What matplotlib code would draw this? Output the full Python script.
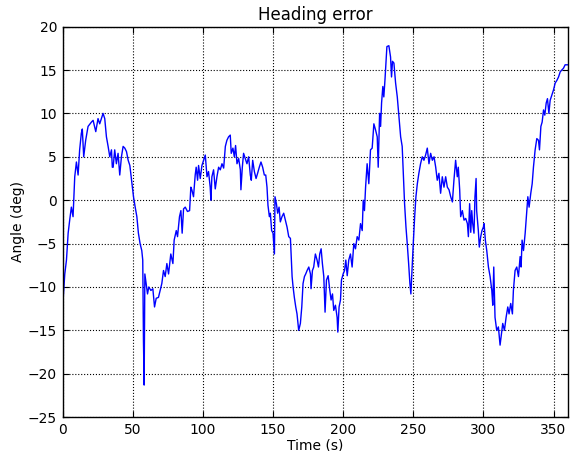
import matplotlib
matplotlib.use("Agg")
import matplotlib.pyplot as plt
import numpy as np

# heading error trace (time in s, angle in deg)
time_s = [
    0.0, 0.3, 1.5, 2.7, 3.9, 5.0, 6.2, 7.4, 7.9, 8.6, 9.8, 11.0, 12.1, 13.3, 14.0,
    15.0, 16.4, 18.1, 20.5, 21.7, 23.6, 25.2, 26.4, 28.8, 30.0, 31.2, 32.4, 33.6,
    34.8, 35.4, 36.0, 37.1, 38.3, 39.5, 40.7, 41.9, 43.1, 44.3, 45.5, 46.7, 47.9,
    49.1, 50.5, 51.7, 52.9, 54.0, 55.2, 56.4, 57.1, 57.6, 58.1, 58.6, 59.5, 60.5,
    61.4, 62.9, 64.3, 65.5, 66.7, 68.3, 69.5, 70.7, 71.9, 73.1, 74.3, 75.5, 77.1,
    78.6, 79.5, 81.0, 81.9, 83.3, 84.3, 85.2, 86.2, 87.4, 89.0, 90.5, 91.4, 92.1,
    93.3, 94.5, 95.2, 96.2, 96.9, 98.1, 99.3, 100.5, 101.7, 102.9, 104.0, 105.2,
    105.7, 106.4, 107.6, 108.8, 110.0, 111.2, 112.4, 113.6, 114.8, 116.0, 117.1,
    118.3, 119.5, 120.2, 121.4, 122.4, 123.3, 124.3, 125.5, 126.7, 127.1, 128.1,
    129.0, 130.2, 131.4, 132.6, 133.8, 134.5, 135.5, 136.7, 137.9, 139.0, 140.2,
    141.4, 142.6, 143.8, 144.8, 145.7, 146.4, 147.4, 148.1, 149.0, 150.0, 151.0,
    151.4, 152.4, 153.3, 154.3, 155.2, 156.4, 157.6, 158.8, 160.0, 161.2, 162.4,
    163.6, 164.3, 165.2, 166.2, 167.1, 168.3, 169.5, 170.5, 171.4, 172.4, 173.3,
    174.3, 175.5, 176.7, 177.1, 178.1, 179.0, 180.2, 181.4, 182.4, 183.3, 184.3,
    185.2, 186.2, 187.1, 188.1, 189.3, 190.5, 191.4, 192.4, 193.3, 194.5, 195.7,
    196.2, 197.1, 198.1, 198.8, 200.0, 201.0, 201.9, 202.9, 204.0, 205.2, 206.4,
    207.6, 208.8, 210.0, 211.2, 212.4, 213.6, 214.3, 215.2, 216.0, 217.1, 218.3,
    219.5, 220.7, 221.9, 223.1, 224.3, 225.0, 226.0, 226.7, 227.4, 228.3, 229.0,
    229.8, 230.5, 231.2, 232.6, 233.8, 234.5, 235.2, 236.2, 237.4, 238.6, 239.8,
    241.0, 242.1, 242.9, 243.8, 244.8, 245.7, 246.7, 247.6, 248.3, 249.3, 250.0,
    251.0, 251.9, 252.9, 254.0, 255.2, 256.4, 257.6, 258.8, 260.0, 261.2, 262.4,
    263.6, 264.8, 266.0, 267.1, 268.3, 269.5, 270.7, 271.9, 273.1, 274.3, 275.5,
    276.7, 277.9, 279.0, 280.2, 281.4, 282.1, 283.1, 283.8, 285.0, 286.2, 287.4,
    288.6, 289.3, 290.2, 291.0, 291.7, 292.4, 293.3, 294.0, 294.8, 295.2, 296.4,
    297.1, 298.1, 299.0, 300.0, 300.5, 301.4, 302.4, 303.6, 304.8, 306.0, 306.7,
    307.4, 308.3, 309.5, 310.7, 311.9, 312.9, 313.8, 315.0, 316.2, 317.4, 318.3,
    319.5, 320.7, 321.4, 322.6, 323.8, 325.0, 326.2, 326.9, 327.6, 328.6, 329.8,
    331.0, 331.7, 332.6, 333.8, 334.8, 335.7, 336.9, 338.1, 339.3, 340.0, 341.0,
    341.9, 342.9, 343.8, 344.8, 345.7, 346.7, 347.6, 348.8, 350.0, 351.2, 352.4,
    353.6, 354.8, 356.0, 357.1, 358.3, 360.0,
]
angle_deg = [
    -10.5, -11.5, -8.5, -6.9, -3.8, -2.3, -0.8, -1.9, 0.0, 2.7, 4.4, 2.9, 5.8, 7.7, 8.2,
    5.0, 6.9, 8.5, 9.0, 9.2, 7.9, 9.4, 8.8, 10.0, 9.4, 7.3, 6.2, 5.0,
    5.8, 3.8, 3.8, 5.8, 4.2, 5.4, 2.9, 5.0, 6.2, 6.0, 5.6, 4.6, 4.0,
    2.3, 0.4, -0.8, -1.9, -3.8, -5.0, -5.8, -6.9, -16.2, -21.3, -8.5, -9.6, -10.8,
    -10.0, -10.4, -10.2, -12.3, -11.3, -11.2, -10.4, -9.6, -8.1, -8.8, -7.3, -8.5, -6.2,
    -7.3, -4.6, -3.5, -4.2, -1.9, -1.2, -3.8, -1.0, -0.8, -1.3, -1.2, 1.5, 1.2,
    0.4, 2.9, 3.8, 2.3, 4.0, 2.5, 4.0, 4.6, 5.2, 2.7, 3.3, 1.5,
    0.0, 2.7, 3.5, 1.3, 2.7, 3.8, 3.5, 4.2, 3.7, 6.2, 6.9,
    7.3, 7.5, 5.4, 6.0, 5.0, 6.3, 4.2, 4.8, 3.5, 1.2, 3.8,
    5.4, 4.8, 4.2, 5.0, 2.9, 2.3, 4.6, 3.3, 2.5, 3.1, 3.8,
    4.4, 3.8, 2.9, 2.9, 1.5, -0.6, -1.9, -1.5, -3.5, -3.8, -6.2,
    0.4, -0.4, -1.5, -0.8, -2.5, -1.9, -1.5, -2.3, -3.1, -4.2, -4.4,
    -8.8, -10.0, -11.2, -12.3, -13.1, -15.0, -14.2, -12.3, -9.6, -8.8, -8.5,
    -8.1, -7.7, -8.5, -10.2, -8.1, -7.7, -6.2, -6.9, -7.7, -6.2, -5.6,
    -7.3, -8.8, -12.9, -9.2, -8.7, -10.4, -11.5, -10.8, -12.7, -12.1, -13.5,
    -15.2, -12.3, -11.5, -9.2, -8.5, -8.1, -6.9, -8.7, -6.9, -6.2, -7.7,
    -5.0, -5.6, -4.2, -4.6, -2.7, -3.5, 0.0, -1.2, 1.5, 4.2, 1.9,
    5.8, 6.0, 8.8, 8.1, 7.3, 3.8, 10.0, 8.5, 11.2, 13.1, 11.9,
    13.8, 15.8, 17.7, 17.8, 16.5, 14.2, 16.0, 15.8, 13.5, 11.9, 9.6,
    7.3, 6.2, 3.1, -0.4, -3.1, -5.0, -7.3, -9.6, -10.8, -7.3, -5.0,
    -1.9, 0.4, 1.9, 3.1, 4.2, 5.0, 4.6, 5.2, 6.0, 4.2, 5.4,
    4.6, 5.0, 3.8, 2.3, 3.1, 0.8, 2.7, 1.5, 2.7, 1.5, 1.2,
    0.4, -0.2, 2.3, 4.6, 2.7, 3.8, 1.2, -1.9, -1.2, -2.3, -2.1,
    -2.7, -4.2, -0.4, -3.7, -1.2, -2.7, -3.8, 0.4, 2.5, -1.2, -3.5,
    -5.4, -4.2, -3.5, -3.1, -2.7, -4.6, -5.8, -7.7, -8.8, -10.4, -12.1,
    -7.7, -13.5, -15.0, -14.6, -16.7, -15.4, -14.2, -15.0, -13.5, -12.3, -13.1,
    -11.9, -13.1, -10.4, -8.1, -7.7, -8.8, -6.5, -7.7, -4.6, -5.8, -3.8,
    -1.2, 0.4, -0.8, 0.8, 1.9, 3.8, 5.8, 7.1, 6.9, 5.8, 8.5,
    9.0, 10.4, 9.8, 11.2, 11.7, 10.0, 11.5, 12.1, 12.7, 13.5, 13.8,
    14.2, 14.8, 15.0, 15.2, 15.6, 15.6,
]

fig = plt.figure(figsize=(5.75, 4.51), dpi=100, facecolor="white")
ax = fig.add_axes([0.109, 0.075, 0.878, 0.866])

ax.plot(time_s, angle_deg, color="blue", linewidth=1.0)

ax.set_xlim(0, 360)
ax.set_ylim(-25, 20)
ax.set_xticks(np.arange(0, 351, 50))
ax.set_yticks(np.arange(-25, 21, 5))
ax.grid(True, color="black", linestyle=":", linewidth=0.8)
ax.tick_params(direction="in", top=True, right=True, length=4, labelsize=10, pad=4)
for spine in ax.spines.values():
    spine.set_linewidth(1.0)

ax.set_title("Heading error", fontsize=12, pad=5)
ax.set_xlabel("Time (s)", fontsize=10, labelpad=1)
ax.set_ylabel("Angle (deg)", fontsize=10, labelpad=2)

fig.savefig("out.png", dpi=100, facecolor="white")
